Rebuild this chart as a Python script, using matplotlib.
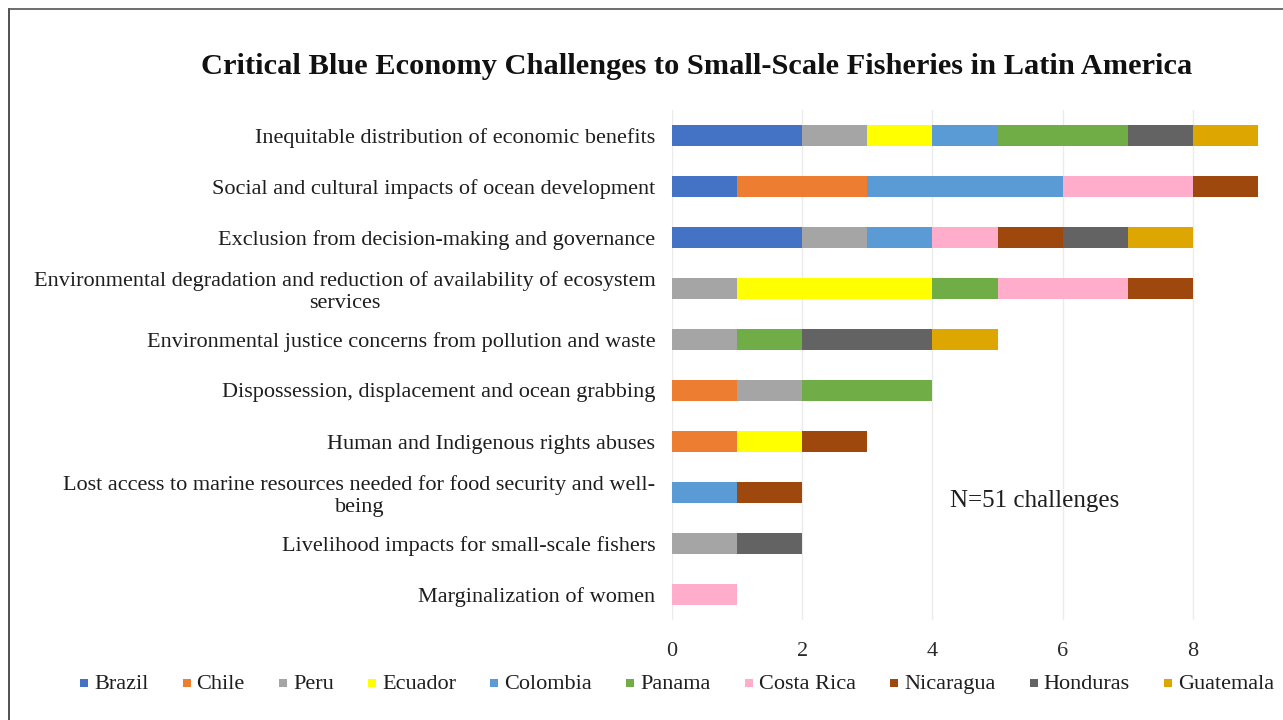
import matplotlib
matplotlib.use("Agg")
import matplotlib.pyplot as plt
from matplotlib.lines import Line2D
from matplotlib.patches import Rectangle
import numpy as np

categories = [
    "Inequitable distribution of economic benefits",
    "Social and cultural impacts of ocean development",
    "Exclusion from decision-making and governance",
    "Environmental degradation and reduction of availability of ecosystem\nservices",
    "Environmental justice concerns from pollution and waste",
    "Dispossession, displacement and ocean grabbing",
    "Human and Indigenous rights abuses",
    "Lost access to marine resources needed for food security and well-\nbeing",
    "Livelihood impacts for small-scale fishers",
    "Marginalization of women",
]
countries = ["Brazil", "Chile", "Peru", "Ecuador", "Colombia", "Panama",
             "Costa Rica", "Nicaragua", "Honduras", "Guatemala"]
brazil    = [2, 1, 2, 0, 0, 0, 0, 0, 0, 0]
chile     = [0, 2, 0, 0, 0, 1, 1, 0, 0, 0]
peru      = [1, 0, 1, 1, 1, 1, 0, 0, 1, 0]
ecuador   = [1, 0, 0, 3, 0, 0, 1, 0, 0, 0]
colombia  = [1, 3, 1, 0, 0, 0, 0, 1, 0, 0]
panama    = [2, 0, 0, 1, 1, 2, 0, 0, 0, 0]
costarica = [0, 2, 1, 2, 0, 0, 0, 0, 0, 1]
nicaragua = [0, 1, 1, 1, 0, 0, 1, 1, 0, 0]
honduras  = [1, 0, 1, 0, 2, 0, 0, 0, 1, 0]
guatemala = [1, 0, 1, 0, 1, 0, 0, 0, 0, 0]
series = [brazil, chile, peru, ecuador, colombia, panama, costarica,
          nicaragua, honduras, guatemala]
colors = ["#4472C4", "#ED7D31", "#A5A5A5", "#FFFF00", "#5B9BD5", "#70AD47",
          "#FFADCA", "#9E480E", "#636363", "#DDA600"]
xticks = [0, 2, 4, 6, 8]
annotation = "N=51 challenges"
title = "Critical Blue Economy Challenges to Small-Scale Fisheries in Latin America"

plt.rcParams['font.family'] = ['Liberation Serif', 'DejaVu Serif']

W, H = 1283, 720
fig = plt.figure(figsize=(W / 100, H / 100), dpi=100)
ax = fig.add_axes([672 / W, 1 - 620 / H, (1276 - 672) / W, 510 / H])

y = np.arange(len(categories))
left = np.zeros(len(categories))
for name, vals, c in zip(countries, series, colors):
    v = np.array(vals, dtype=float)
    ax.barh(y, v, left=left, height=0.41, color=c, label=name, zorder=3)
    left += v

ax.set_ylim(len(categories) - 0.5, -0.5)
ax.set_xlim(0, (1276 - 672) / 65.1)
ax.set_xticks(xticks)
ax.set_xticklabels([str(t) for t in xticks], fontsize=16, color="#2a2a2a")
ax.set_yticks(y)
ax.set_yticklabels(categories, fontsize=16, color="#1e1e1e",
                   multialignment="center", linespacing=1.15)
ax.tick_params(axis="y", length=0, pad=12)
ax.tick_params(axis="x", length=0, pad=16)
for s in ax.spines.values():
    s.set_visible(False)
ax.grid(axis="x", color="#EBEBEB", linewidth=1, zorder=0)
ax.set_axisbelow(True)

ax.text(1035 / W, 1 - 501 / H, annotation, transform=fig.transFigure,
        fontsize=18, ha="center", va="center", color="#1e1e1e")

fig.text(697 / W, 1 - 66 / H, title, fontsize=21.9, fontweight="bold",
         ha="center", va="center", color="#111111")

# legend laid out in one row (manual so all labels share one baseline)
renderer = fig.canvas.get_renderer()
leg_fs = 16
mk, pad = 8, 6
texts = []
for name in countries:
    t = fig.text(0, 1 - 689 / H, name, fontsize=leg_fs, ha="left",
                 va="baseline", color="#1e1e1e")
    texts.append(t)
widths = [t.get_window_extent(renderer).width for t in texts]
total_target = 1194
gap = (total_target - sum(widths) - len(countries) * (mk + pad)) / (len(countries) - 1)
x = 677 - total_target / 2
for t, w, c in zip(texts, widths, colors):
    fig.add_artist(Rectangle((x / W, 1 - 687 / H), mk / W, mk / H,
                             transform=fig.transFigure, facecolor=c,
                             edgecolor="none"))
    t.set_x((x + mk + pad) / W)
    x += mk + pad + w + gap

# frame (cropped border at left and top)
fig.add_artist(Line2D([9 / W, 9 / W], [0, 1 - 9 / H], transform=fig.transFigure,
                      color="#333333", linewidth=1.2))
fig.add_artist(Line2D([9 / W, 1], [1 - 9 / H, 1 - 9 / H], transform=fig.transFigure,
                      color="#555555", linewidth=1.2))

fig.savefig("out.png", dpi=100)
